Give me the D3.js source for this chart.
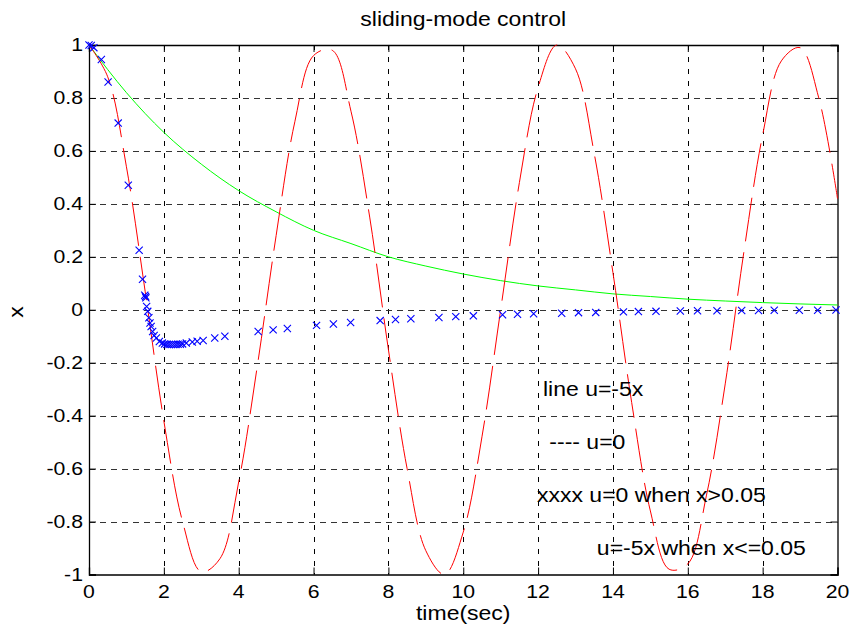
<!DOCTYPE html>
<html>
<head>
<meta charset="utf-8">
<script src="https://cdn.jsdelivr.net/npm/d3@7"></script>
<style>
  body { margin: 0; background: #fff; }
  svg text { font-family: "Liberation Sans", Arial, sans-serif; fill: #000; }
</style>
</head>
<body>
<svg id="chart" width="850" height="630"></svg>
<script>
// ---- data ----------------------------------------------------------------
// open-loop response (u = 0): red dashed curve
const tOpen = [0,0.5,1,1.5,2,2.5,3,3.5,4,4.5,5,5.5,6,6.5,7,7.5,8,8.5,9,9.5,10,
               10.5,11,11.5,12,12.5,13,13.5,14,14.5,15,15.5,16,16.5,17,17.5,18,18.5,19,19.5,20];
const xOpen = [1.00,0.88,0.54,0.07,-0.42,-0.80,-0.99,-0.94,-0.65,-0.21,0.28,0.71,0.96,0.98,0.75,0.35,
               -0.15,-0.60,-0.91,-1.00,-0.84,-0.48,0.00,0.48,0.84,1.00,0.91,0.59,0.14,-0.35,-0.76,
               -0.98,-0.96,-0.70,-0.28,0.22,0.66,0.94,0.99,0.80,0.42];

// linear feedback u = -5x: green solid curve
const tLin = [0,1,2,3,4,5,6,7,8,9,10,11,12,13,14,15,16,17,18,19,20];
const xLin = [1.00,0.82,0.67,0.55,0.45,0.37,0.30,0.25,0.20,0.165,0.135,0.11,0.09,0.075,0.06,
              0.05,0.04,0.033,0.027,0.022,0.018];

// switched control: blue x markers
const tSwitch = [0.00,0.06,0.13,0.33,0.51,0.78,1.05,1.34,1.43,1.49,1.51,1.52,1.54,1.57,1.60,1.63,
                 1.66,1.70,1.74,1.80,1.88,1.96,2.02,2.08,2.14,2.20,2.26,2.32,2.38,2.44,2.50,2.60,
                 2.76,2.89,3.05,3.36,3.63,4.52,4.92,5.30,6.08,6.53,6.99,7.78,8.19,8.60,9.35,9.80,
                 10.27,11.05,11.45,11.88,12.63,13.08,13.54,14.28,14.68,15.15,15.80,16.26,16.78,
                 17.44,17.89,18.31,18.98,19.47,19.96];
const xSwitch = [1.000,0.998,0.990,0.945,0.860,0.705,0.470,0.225,0.115,0.055,0.050,0.045,0.012,
                 -0.006,-0.030,-0.050,-0.063,-0.082,-0.097,-0.107,-0.120,-0.126,-0.129,-0.130,
                 -0.131,-0.131,-0.131,-0.131,-0.130,-0.130,-0.129,-0.126,-0.122,-0.119,-0.116,
                 -0.107,-0.100,-0.082,-0.076,-0.071,-0.059,-0.054,-0.048,-0.041,-0.037,-0.034,
                 -0.029,-0.026,-0.023,-0.019,-0.017,-0.015,-0.013,-0.011,-0.010,-0.008,-0.007,
                 -0.006,-0.005,-0.004,-0.004,-0.003,-0.003,-0.002,-0.002,-0.002,-0.001];

const xTicks = [0,2,4,6,8,10,12,14,16,18,20];
const yTicks = [-1,-0.8,-0.6,-0.4,-0.2,0,0.2,0.4,0.6,0.8,1];
// text annotations, vertically centred on the given x value
const annotations = [
  { t: 12.13, x: -0.3, text: "line u=-5x" },
  { t: 12.3, x: -0.5, text: "---- u=0" },
  { t: 11.97, x: -0.7, text: "xxxx u=0 when x>0.05" },
  { t: 13.57, x: -0.9, text: "u=-5x when x<=0.05" }
];

// ---- layout ----------------------------------------------------------------
const plotL = 89, plotR = 837.5, plotT = 45, plotB = 574.5;
const SX = 1.18;   // horizontal glyph stretch of the figure's fonts

const svg = d3.select("#chart");
const x = d3.scaleLinear().domain([0, 20]).range([plotL, plotR]);
const y = d3.scaleLinear().domain([-1, 1]).range([plotB, plotT]);

function label(parent, px, py, str, size, anchor, rot, baseline) {
  const g = parent.append("g")
    .attr("transform", `translate(${px},${py})` + (rot ? ` rotate(${rot})` : "") + ` scale(${SX},1)`);
  const t = g.append("text")
    .attr("text-anchor", anchor || "start")
    .attr("font-size", size)
    .text(str);
  if (baseline === "middle") t.attr("dy", "0.35em");
  return g;
}

// grid
const grid = svg.append("g").attr("class", "grid");
grid.selectAll("line.gx").data(xTicks.slice(1, -1)).join("line")
  .attr("class", "gx")
  .attr("x1", d => Math.round(x(d)) + 0.5).attr("x2", d => Math.round(x(d)) + 0.5)
  .attr("y1", plotT).attr("y2", plotB)
  .attr("stroke", "#000").attr("stroke-width", 1).attr("stroke-dasharray", "5,7");
grid.selectAll("line.gy").data(yTicks.slice(1, -1)).join("line")
  .attr("class", "gy")
  .attr("x1", plotL).attr("x2", plotR)
  .attr("y1", d => Math.round(y(d)) + 0.5).attr("y2", d => Math.round(y(d)) + 0.5)
  .attr("stroke", "#333").attr("stroke-width", 1).attr("stroke-dasharray", "6,5");

// axes box with inward ticks
const axisB = d3.axisBottom(x).tickValues(xTicks).tickSize(-7).tickFormat("");
const axisT = d3.axisTop(x).tickValues(xTicks).tickSize(-7).tickFormat("");
const axisL = d3.axisLeft(y).tickValues(yTicks).tickSize(-7).tickFormat("");
const axisR = d3.axisRight(y).tickValues(yTicks).tickSize(-7).tickFormat("");
svg.append("g").attr("transform", `translate(0,${plotB})`).call(axisB);
svg.append("g").attr("transform", `translate(0,${plotT})`).call(axisT);
svg.append("g").attr("transform", `translate(${plotL},0)`).call(axisL);
svg.append("g").attr("transform", `translate(${plotR},0)`).call(axisR);
svg.selectAll(".domain").attr("stroke", "#000").attr("stroke-width", 1.3);
svg.selectAll(".tick line").attr("stroke", "#000");

// tick labels
const tl = svg.append("g");
xTicks.forEach(d => label(tl, x(d), 598, String(d), 18, "middle"));
yTicks.forEach(d => label(tl, plotL - 6, y(d) + 6, String(d), 18, "end"));

// curves
const plot = svg.append("g");
plot.append("path")
  .datum(d3.zip(tLin, xLin))
  .attr("d", d3.line().x(d => x(d[0])).y(d => y(d[1])).curve(d3.curveMonotoneX))
  .attr("fill", "none").attr("stroke", "#00ff00").attr("stroke-width", 1);
plot.append("path")
  .datum(d3.zip(tOpen, xOpen))
  .attr("d", d3.line().x(d => x(d[0])).y(d => y(d[1])).curve(d3.curveCatmullRom.alpha(0.5)))
  .attr("fill", "none").attr("stroke", "#ff0000").attr("stroke-width", 1)
  .attr("stroke-dasharray", "44,11");

// markers
const ms = 3.6;
plot.selectAll("path.mk").data(d3.zip(tSwitch, xSwitch)).join("path")
  .attr("class", "mk")
  .attr("d", d => {
    const cx = x(d[0]), cy = y(d[1]);
    return `M${cx - ms},${cy - ms}L${cx + ms},${cy + ms}M${cx - ms},${cy + ms}L${cx + ms},${cy - ms}`;
  })
  .attr("stroke", "#0000ff").attr("stroke-width", 1.1).attr("fill", "none");

// annotations
annotations.forEach(a => label(svg, x(a.t), y(a.x), a.text, 19.5, "start", 0, "middle"));

// title and axis labels
label(svg, (plotL + plotR) / 2, 26, "sliding-mode control", 19.5, "middle");
label(svg, (plotL + plotR) / 2, 620, "time(sec)", 19.5, "middle");
label(svg, 23, 312, "x", 19.5, "middle", -90);
</script>
</body>
</html>
